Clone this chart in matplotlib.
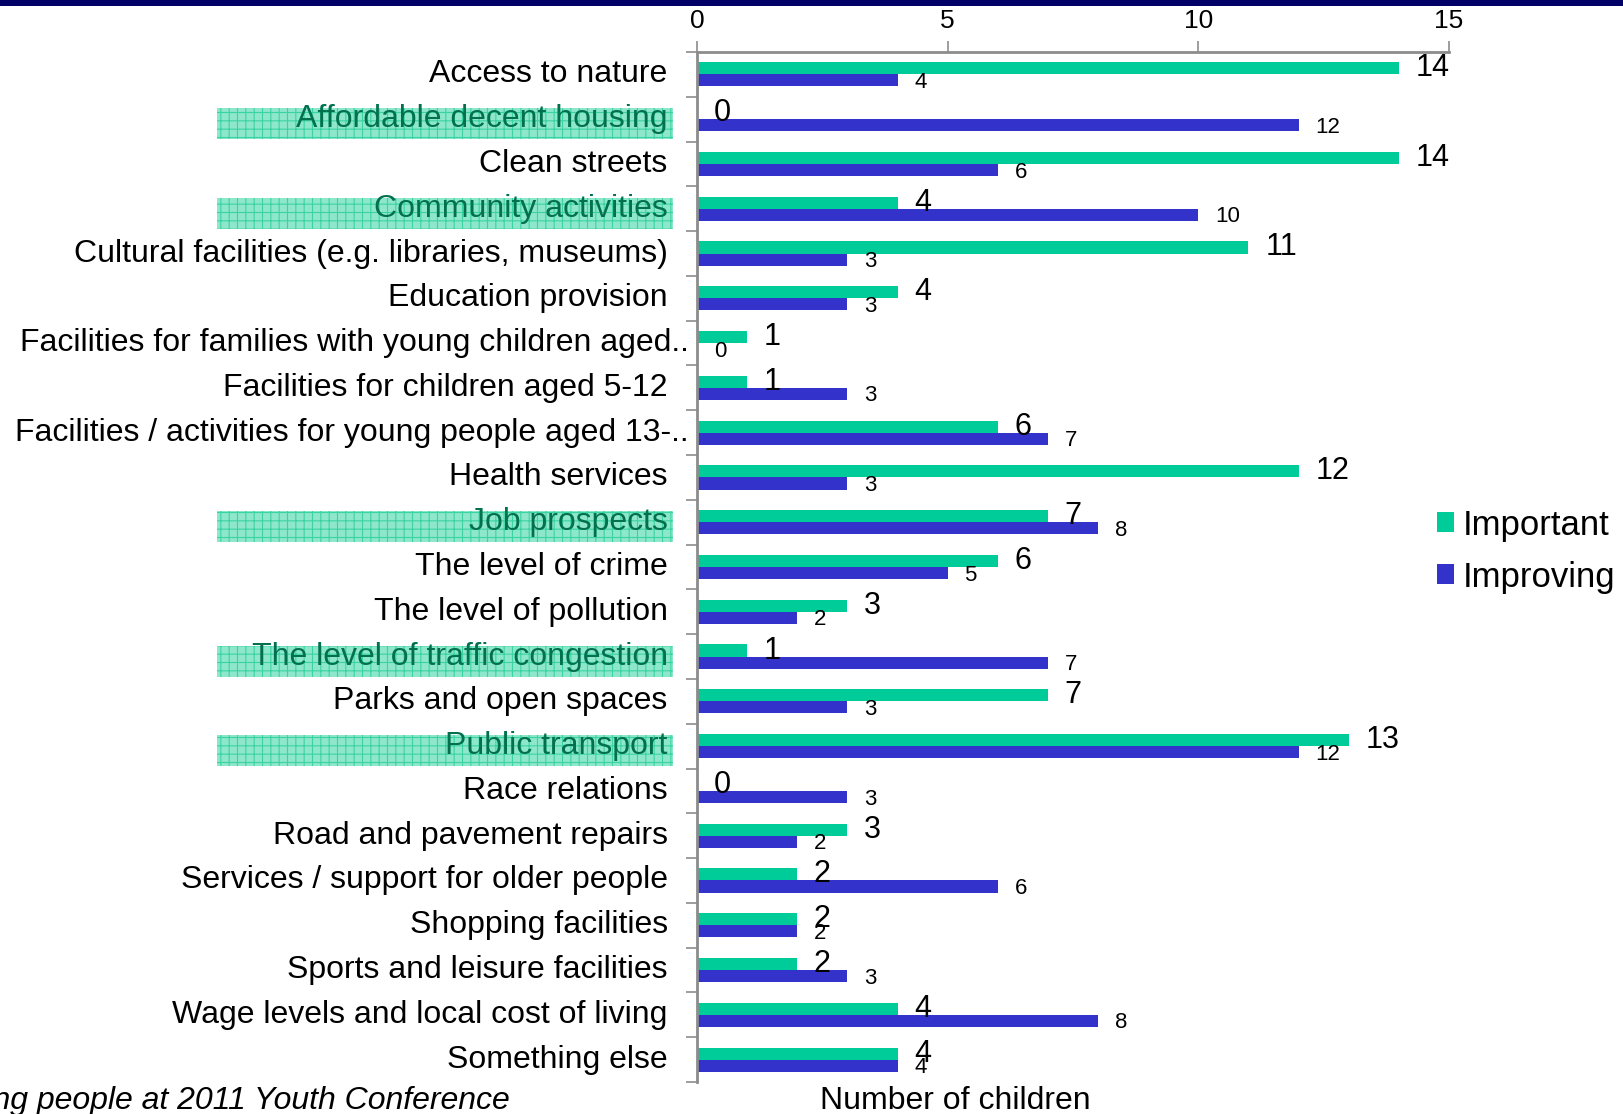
import matplotlib.pyplot as plt
import numpy as np
from matplotlib.patches import Rectangle
from matplotlib import font_manager

categories = [
    "Access to nature",
    "Affordable decent housing",
    "Clean streets",
    "Community activities",
    "Cultural facilities (e.g. libraries, museums)",
    "Education provision",
    "Facilities for families with young children aged..",
    "Facilities for children aged 5-12",
    "Facilities / activities for young people aged 13-..",
    "Health services",
    "Job prospects",
    "The level of crime",
    "The level of pollution",
    "The level of traffic congestion",
    "Parks and open spaces",
    "Public transport",
    "Race relations",
    "Road and pavement repairs",
    "Services / support for older people",
    "Shopping facilities",
    "Sports and leisure facilities",
    "Wage levels and local cost of living",
    "Something else",
]
important = [14, 0, 14, 4, 11, 4, 1, 1, 6, 12, 7, 6, 3, 1, 7, 13, 0, 3, 2, 2, 2, 4, 4]
improving = [4, 12, 6, 10, 3, 3, 0, 3, 7, 3, 8, 5, 2, 7, 3, 12, 3, 2, 6, 2, 3, 8, 4]
highlighted = ["Affordable decent housing", "Community activities", "Job prospects",
               "The level of traffic congestion", "Public transport"]
x_ticks = [0, 5, 10, 15]

green = "#00CC99"
blue = "#3333CC"
grey = "#8C8C8C"

names = {f.name for f in font_manager.fontManager.ttflist}
narrow = "Liberation Sans Narrow" if "Liberation Sans Narrow" in names else "Liberation Sans"
plt.rcParams["font.family"] = ["Liberation Sans", "DejaVu Sans"]
plt.rcParams["hatch.color"] = "#3AD3A2"
plt.rcParams["hatch.linewidth"] = 0.8

W, H = 1624, 1114
fig = plt.figure(figsize=(W / 100, H / 100), dpi=100)
ax = fig.add_axes([697 / W, 32 / H, 752 / W, 1030 / H])

y = np.arange(len(categories))
h = 0.27
ax.barh(y - h / 2, important, height=h, color=green, label="Important", zorder=2)
ax.barh(y + h / 2, improving, height=h, color=blue, label="Improving", zorder=2)

# value labels: big ones for "Important", small ones for "Improving"
for i in range(len(categories)):
    ax.annotate(str(important[i]), (important[i], y[i] - h / 2), xytext=(12, 0),
                textcoords="offset points", ha="left", va="center", fontsize=22,
                zorder=4)
    ax.annotate(str(improving[i]), (improving[i], y[i] + h / 2), xytext=(12, -1.5),
                textcoords="offset points", ha="left", va="center", fontsize=16,
                zorder=4)

ax.set_xlim(0, 15)
ax.set_ylim(len(categories) - 0.5, -0.5)
ax.xaxis.tick_top()
ax.xaxis.set_label_position("bottom")
ax.set_xticks(x_ticks)
ax.set_xticklabels([str(t) for t in x_ticks], fontsize=19, family=narrow)
ax.tick_params(axis="x", direction="out", length=8, width=1.2, color=grey, pad=6)
ax.set_xlabel("Number of children", fontsize=23, family=narrow, labelpad=3)
ax.xaxis.label.set_position((0.343, 0))

ax.set_yticks(np.arange(len(categories) + 1) - 0.5, minor=True)
ax.set_yticks(y)
ax.set_yticklabels([])
ax.tick_params(axis="y", which="major", length=0)
ax.tick_params(axis="y", which="minor", direction="out", length=8, width=1.2, color=grey)

for side in ["right", "bottom"]:
    ax.spines[side].set_visible(False)
for side in ["left", "top"]:
    ax.spines[side].set_color(grey)
    ax.spines[side].set_linewidth(2)

# category labels, with the hatched green boxes behind a few of them
fig.canvas.draw()
for i, name in enumerate(categories):
    hl = name in highlighted
    if hl:
        yc = ax.transData.transform((0, y[i]))[1]
        box = Rectangle((217.5 / W, (yc - 20) / H), 455.5 / W, 31 / H,
                        transform=fig.transFigure, facecolor="#8EE7CB",
                        edgecolor="#3AD3A2", hatch="++", linewidth=0, zorder=1,
                        clip_on=False)
        ax.add_patch(box)
    xpos = -0.011 if name.endswith("..") else -0.039
    ax.text(xpos, y[i], name, transform=ax.get_yaxis_transform(), ha="right",
            va="center", fontsize=23, color="#00704F" if hl else "black", zorder=5)

fig.text(511 / W, 13 / H, "young people at 2011 Youth Conference", ha="right",
         va="center", fontsize=23, style="italic", family=narrow)

leg = fig.legend(loc="upper left", bbox_to_anchor=(0.8846, 0.5435), frameon=False,
                 fontsize=25, handlelength=0.5, handleheight=0.5, handletextpad=0.25,
                 labelspacing=0.55, borderaxespad=0, borderpad=0)

# dark band across the top edge
fig.patches.append(Rectangle((0, 0.995), 1, 0.005, transform=fig.transFigure,
                             facecolor="#000066", edgecolor="none"))

fig.savefig("out.png", dpi=100)
